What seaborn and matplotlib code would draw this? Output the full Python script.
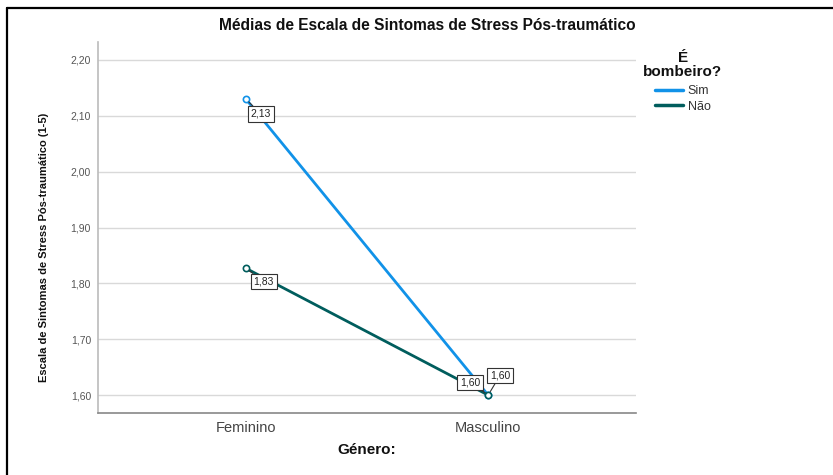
import matplotlib
matplotlib.use("Agg")
import matplotlib.pyplot as plt
import matplotlib.font_manager as fm
from matplotlib.lines import Line2D
import seaborn as sns
import pandas as pd

# ---- data ----
generos = ["Feminino", "Masculino"]
bombeiro_levels = ["Sim", "Não"]
medias_sim = [2.13, 1.60]
medias_nao = [1.827, 1.60]
rotulos_sim = ["2,13", "1,60"]
rotulos_nao = ["1,83", "1,60"]
yticks = [1.60, 1.70, 1.80, 1.90, 2.00, 2.10, 2.20]
ytick_labels = ["1,60", "1,70", "1,80", "1,90", "2,00", "2,10", "2,20"]

df = pd.DataFrame({
    "Género:": generos * 2,
    "media": medias_sim + medias_nao,
    "É bombeiro?": ["Sim"] * 2 + ["Não"] * 2,
})

sns.set_theme(style="white")
names = {f.name for f in fm.fontManager.ttflist}
fam = "Liberation Sans" if "Liberation Sans" in names else "DejaVu Sans"
plt.rcParams["font.family"] = [fam, "DejaVu Sans"]

colors = {"Sim": "#1192e8", "Não": "#005d5d"}

fig = plt.figure(figsize=(8.33, 4.75), dpi=100)
ax = fig.add_axes([98 / 833, 1 - 413 / 475, (636 - 98) / 833, (413 - 42) / 475])

sns.pointplot(data=df, x="Género:", y="media", hue="É bombeiro?",
              hue_order=bombeiro_levels, order=generos, palette=colors,
              errorbar=None, markers="o", linestyles="-", ax=ax,
              markersize=4.5, linewidth=2.0, markerfacecolor="white",
              markeredgewidth=1.2, legend=False)

ax.set_xlim(-0.61, 1.61)
ax.set_ylim(1.568, 2.232)
ax.set_yticks(yticks)
ax.set_yticklabels(ytick_labels, fontsize=7.5, color="#555555")
ax.tick_params(axis="y", length=0, pad=5)
ax.tick_params(axis="x", length=0, pad=6, labelsize=10.5, labelcolor="#444444")
ax.grid(axis="y", color="#d9d9d9", linewidth=1.0)
ax.set_axisbelow(True)
for s in ["top", "right"]:
    ax.spines[s].set_visible(False)
ax.spines["left"].set_color("#bbbbbb")
ax.spines["left"].set_linewidth(1.2)
ax.spines["bottom"].set_color("#888888")
ax.spines["bottom"].set_linewidth(1.2)
ax.set_xlabel("")
ax.set_ylabel("")

# data labels
ann_kw = dict(textcoords="offset pixels", fontsize=7.5, ha="center", va="center",
              color="#222222",
              bbox=dict(boxstyle="square,pad=0.25", fc="white", ec="#333333", lw=0.8),
              arrowprops=dict(arrowstyle="-", color="#333333", lw=0.8,
                              shrinkA=0, shrinkB=3))
offsets_sim = [(15, -15), (12, 20)]
offsets_nao = [(18, -13), (-18, 13)]
for i in range(2):
    ax.annotate(rotulos_sim[i], xy=(i, medias_sim[i]), xytext=offsets_sim[i], **ann_kw)
    ax.annotate(rotulos_nao[i], xy=(i, medias_nao[i]), xytext=offsets_nao[i], **ann_kw)

# legend
handles = [Line2D([0], [0], color=colors[k], lw=2.5) for k in bombeiro_levels]
leg = fig.legend(handles, bombeiro_levels,
                 loc="upper center", bbox_to_anchor=(683 / 833, 1 - 85 / 475),
                 frameon=False, fontsize=9, handlelength=2.2, handletextpad=0.4,
                 labelspacing=0.3, borderpad=0, borderaxespad=0)
for t in leg.get_texts():
    t.set_color("#333333")
fig.text(683 / 833, 1 - 65 / 475, "É\nbombeiro?", ha="center", va="center",
         multialignment="center", linespacing=1.0, fontsize=11, fontweight="bold",
         color="#111111")

fig.text(427 / 833, 1 - 26 / 475, "Médias de Escala de Sintomas de Stress Pós-traumático",
         ha="center", va="center", fontsize=11.2, fontweight="bold", color="#111111")
fig.text(367 / 833, 1 - 450 / 475, "Género:", ha="center", va="center",
         fontsize=11, fontweight="bold", color="#111111")
fig.text(44 / 833, 1 - 247 / 475, "Escala de Sintomas de Stress Pós-traumático (1-5)",
         ha="center", va="center", rotation=90, fontsize=8, fontweight="bold",
         color="#111111")

# frame border (top and left)
fig.add_artist(Line2D([7 / 833, 1], [1 - 8 / 475, 1 - 8 / 475], color="black", lw=1.6,
                      transform=fig.transFigure))
fig.add_artist(Line2D([7 / 833, 7 / 833], [0, 1 - 8 / 475], color="black", lw=1.6,
                      transform=fig.transFigure))

fig.savefig("out.png", dpi=100)
